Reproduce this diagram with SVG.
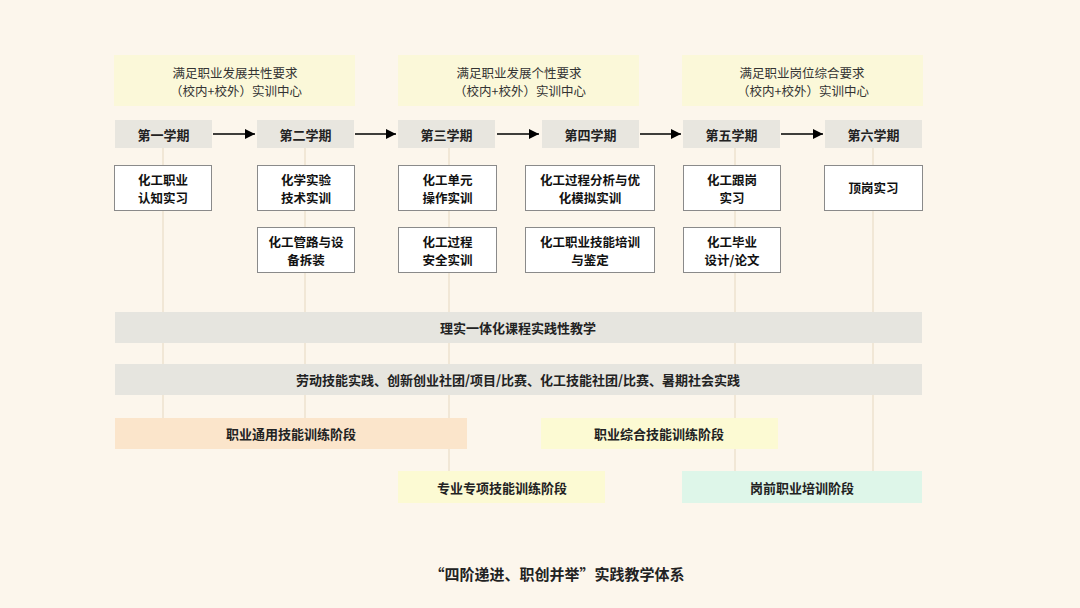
<svg xmlns="http://www.w3.org/2000/svg" width="1080" height="608" viewBox="0 0 1080 608">
<defs>
<style>
text{font-family:"Noto Sans CJK SC","Noto Sans",sans-serif;text-anchor:middle;dominant-baseline:central;fill:#222}
.top{fill:#fbf8d9}
.toptx{font-size:12.5px;fill:#333}
.sem{fill:#e8e6df}
.semtx{font-size:13px;font-weight:bold}
.course{fill:#fff;stroke:#8a8a8a;stroke-width:1}
.ctx{font-size:12.5px;font-weight:bold;fill:#111}
.bar{fill:#e6e5df}
.bartx{font-size:13px;font-weight:bold}
.guide{stroke:#f1e7d6;stroke-width:2;fill:none}
.arrow{stroke:#000;stroke-width:1.6;fill:none;marker-end:url(#ah)}
</style>
<marker id="ah" viewBox="0 0 10 10" refX="10" refY="5" markerWidth="10" markerHeight="10" markerUnits="userSpaceOnUse" orient="auto">
<path d="M0,0 L10,5 L0,10 z" fill="#000"/>
</marker>
</defs>
<rect width="1080" height="608" fill="#fcf6ec"/>

<g id="guides">
<line class="guide" x1="163" y1="148" x2="163" y2="418"/>
<line class="guide" x1="305" y1="148" x2="305" y2="418"/>
<line class="guide" x1="449" y1="148" x2="449" y2="471"/>
<line class="guide" x1="735" y1="148" x2="735" y2="471"/>
<line class="guide" x1="873" y1="148" x2="873" y2="471"/>
</g>

<g id="center1"><rect class="top" x="114" y="55" width="241" height="51"/>
<text class="toptx" x="235" y="72">满足职业发展共性要求</text>
<text class="toptx" x="236" y="90">（校内+校外）实训中心</text></g>
<g id="center2"><rect class="top" x="398" y="55" width="241" height="51"/>
<text class="toptx" x="519" y="72">满足职业发展个性要求</text>
<text class="toptx" x="520" y="90">（校内+校外）实训中心</text></g>
<g id="center3"><rect class="top" x="682" y="55" width="241" height="51"/>
<text class="toptx" x="802" y="72">满足职业岗位综合要求</text>
<text class="toptx" x="803" y="90">（校内+校外）实训中心</text></g>

<g id="sem1"><rect class="sem" x="115" y="120" width="97" height="28"/><text class="semtx" x="163.5" y="134">第一学期</text></g>
<g id="sem2"><rect class="sem" x="257" y="120" width="97" height="28"/><text class="semtx" x="305.5" y="134">第二学期</text></g>
<g id="sem3"><rect class="sem" x="398" y="120" width="97" height="28"/><text class="semtx" x="446.5" y="134">第三学期</text></g>
<g id="sem4"><rect class="sem" x="542" y="120" width="97" height="28"/><text class="semtx" x="590.5" y="134">第四学期</text></g>
<g id="sem5"><rect class="sem" x="683" y="120" width="97" height="28"/><text class="semtx" x="731.5" y="134">第五学期</text></g>
<g id="sem6"><rect class="sem" x="825" y="120" width="97" height="28"/><text class="semtx" x="873.5" y="134">第六学期</text></g>

<g id="connectors">
<line class="arrow" x1="213" y1="134" x2="255" y2="134"/>
<line class="arrow" x1="355" y1="134" x2="396" y2="134"/>
<line class="arrow" x1="497" y1="134" x2="539" y2="134"/>
<line class="arrow" x1="640" y1="134" x2="681" y2="134"/>
<line class="arrow" x1="781" y1="134" x2="823" y2="134"/>
</g>

<g id="c1"><rect class="course" x="114.5" y="165.5" width="97" height="45"/>
<text class="ctx" x="163" y="179">化工职业</text><text class="ctx" x="163" y="197">认知实习</text></g>
<g id="c2"><rect class="course" x="257.5" y="165.5" width="97" height="45"/>
<text class="ctx" x="306" y="179">化学实验</text><text class="ctx" x="306" y="197">技术实训</text></g>
<g id="c3"><rect class="course" x="257.5" y="227.5" width="97" height="45"/>
<text class="ctx" x="306" y="241">化工管路与设</text><text class="ctx" x="306" y="259">备拆装</text></g>
<g id="c4"><rect class="course" x="398.5" y="165.5" width="98" height="45"/>
<text class="ctx" x="447.5" y="179">化工单元</text><text class="ctx" x="447.5" y="197">操作实训</text></g>
<g id="c5"><rect class="course" x="398.5" y="227.5" width="98" height="45"/>
<text class="ctx" x="447.5" y="241">化工过程</text><text class="ctx" x="447.5" y="259">安全实训</text></g>
<g id="c6"><rect class="course" x="525.5" y="165.5" width="129" height="45"/>
<text class="ctx" x="590" y="179">化工过程分析与优</text><text class="ctx" x="590" y="197">化模拟实训</text></g>
<g id="c7"><rect class="course" x="525.5" y="227.5" width="129" height="45"/>
<text class="ctx" x="590" y="241">化工职业技能培训</text><text class="ctx" x="590" y="259">与鉴定</text></g>
<g id="c8"><rect class="course" x="683.5" y="165.5" width="97" height="45"/>
<text class="ctx" x="732" y="179">化工跟岗</text><text class="ctx" x="732" y="197">实习</text></g>
<g id="c9"><rect class="course" x="683.5" y="227.5" width="97" height="45"/>
<text class="ctx" x="732" y="241">化工毕业</text><text class="ctx" x="732" y="259">设计/论文</text></g>
<g id="c10"><rect class="course" x="824.5" y="165.5" width="98" height="45"/>
<text class="ctx" x="873.5" y="187">顶岗实习</text></g>

<g id="bar1"><rect class="bar" x="115" y="312" width="807" height="31"/>
<text class="bartx" x="518" y="327">理实一体化课程实践性教学</text></g>
<g id="bar2"><rect class="bar" x="115" y="364" width="807" height="31"/>
<text class="bartx" x="518" y="379">劳动技能实践、创新创业社团/项目/比赛、化工技能社团/比赛、暑期社会实践</text></g>

<g id="stage1"><rect x="115" y="418" width="352" height="31" fill="#fbe5cb"/>
<text class="bartx" x="291" y="433">职业通用技能训练阶段</text></g>
<g id="stage2"><rect x="541" y="418" width="237" height="31" fill="#fcfad3"/>
<text class="bartx" x="659" y="433">职业综合技能训练阶段</text></g>
<g id="stage3"><rect x="398" y="471" width="207" height="32" fill="#fcfad3"/>
<text class="bartx" x="502" y="487">专业专项技能训练阶段</text></g>
<g id="stage4"><rect x="682" y="471" width="240" height="32" fill="#def6e9"/>
<text class="bartx" x="802" y="487">岗前职业培训阶段</text></g>

<text x="557" y="573" style="font-size:15px;font-weight:bold">“四阶递进、职创并举”实践教学体系</text>
</svg>
